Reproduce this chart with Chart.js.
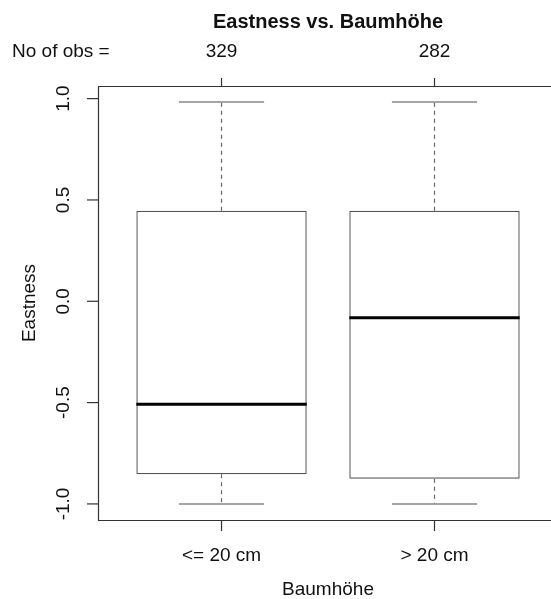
<!DOCTYPE html>
<html>
<head>
<meta charset="utf-8">
<script src="https://cdn.jsdelivr.net/npm/chart.js@4/dist/chart.umd.min.js"></script>
<style>
  html, body { margin: 0; padding: 0; background: #fff; }
  #wrap { width: 551px; height: 599px; }
</style>
</head>
<body>
<div id="wrap"><canvas id="c" width="551" height="599"></canvas></div>
<script>
// Box plot summaries per height class
const groups = ['<= 20 cm', '> 20 cm'];
const positions = [1, 2];
const nObs = [329, 282];
const whiskerLow = [-1.0, -1.0];
const quart1 = [-0.853, -0.876];
const medians = [-0.508, -0.081];
const quart3 = [0.447, 0.447];
const whiskerHigh = [0.983, 0.983];
const yTicks = [-1.0, -0.5, 0.0, 0.5, 1.0];

const titleText = 'Eastness vs. Baumhöhe';
const xTitle = 'Baumhöhe';
const yTitle = 'Eastness';
const obsLabel = 'No of obs =';

const FONT = '"Liberation Sans", Arial, Helvetica, sans-serif';
const BOX_WIDTH = 0.8;   // in x units
const CAP_WIDTH = 0.4;   // staple width in x units

const boxPlotExtras = {
  id: 'boxPlotExtras',
  beforeDraw(chart) {
    const ctx = chart.ctx;
    ctx.save();
    ctx.fillStyle = '#fff';
    ctx.fillRect(0, 0, chart.width, chart.height);
    ctx.restore();
  },
  afterDatasetsDraw(chart) {
    const ctx = chart.ctx;
    const xs = chart.scales.x, ys = chart.scales.y;
    ctx.save();
    positions.forEach((p, i) => {
      const cx = xs.getPixelForValue(p);
      const capHalf = (xs.getPixelForValue(p + CAP_WIDTH / 2) - cx);
      const boxHalf = (xs.getPixelForValue(p + BOX_WIDTH / 2) - cx);
      // dashed whiskers
      ctx.strokeStyle = '#666';
      ctx.lineWidth = 1.2;
      ctx.setLineDash([4, 4]);
      ctx.beginPath();
      ctx.moveTo(cx, ys.getPixelForValue(quart3[i]));
      ctx.lineTo(cx, ys.getPixelForValue(whiskerHigh[i]));
      ctx.moveTo(cx, ys.getPixelForValue(quart1[i]));
      ctx.lineTo(cx, ys.getPixelForValue(whiskerLow[i]));
      ctx.stroke();
      ctx.setLineDash([]);
      // staples
      ctx.strokeStyle = '#888';
      ctx.lineWidth = 1.5;
      ctx.beginPath();
      let yh = ys.getPixelForValue(whiskerHigh[i]);
      let yl = ys.getPixelForValue(whiskerLow[i]);
      ctx.moveTo(cx - capHalf, yh); ctx.lineTo(cx + capHalf, yh);
      ctx.moveTo(cx - capHalf, yl); ctx.lineTo(cx + capHalf, yl);
      ctx.stroke();
      // median
      ctx.strokeStyle = '#000';
      ctx.lineWidth = 3;
      const ym = ys.getPixelForValue(medians[i]);
      ctx.beginPath();
      ctx.moveTo(cx - boxHalf, ym); ctx.lineTo(cx + boxHalf, ym);
      ctx.stroke();
    });
    ctx.restore();
  },
  afterDraw(chart) {
    const ctx = chart.ctx;
    const xs = chart.scales.x, ys = chart.scales.y;
    const a = chart.chartArea;
    ctx.save();
    // frame (left, top, bottom)
    ctx.strokeStyle = '#333';
    ctx.lineWidth = 1.2;
    ctx.beginPath();
    ctx.moveTo(a.right + 10, a.top + 0.5);
    ctx.lineTo(a.left + 0.5, a.top + 0.5);
    ctx.lineTo(a.left + 0.5, a.bottom + 0.5);
    ctx.lineTo(a.right + 10, a.bottom + 0.5);
    ctx.stroke();

    ctx.fillStyle = '#111';
    ctx.font = '19px ' + FONT;
    // y ticks with rotated labels
    yTicks.forEach(v => {
      const y = ys.getPixelForValue(v);
      ctx.beginPath();
      ctx.moveTo(a.left, y); ctx.lineTo(a.left - 11, y);
      ctx.stroke();
      ctx.save();
      ctx.translate(a.left - 34, y);
      ctx.rotate(-Math.PI / 2);
      ctx.textAlign = 'center';
      ctx.textBaseline = 'middle';
      ctx.fillText(v.toFixed(1), 0, 0);
      ctx.restore();
    });
    // x ticks, bottom labels, top ticks and counts
    positions.forEach((p, i) => {
      const x = xs.getPixelForValue(p);
      ctx.beginPath();
      ctx.moveTo(x, a.bottom); ctx.lineTo(x, a.bottom + 11);
      ctx.moveTo(x, a.top); ctx.lineTo(x, a.top - 8);
      ctx.stroke();
      ctx.textAlign = 'center';
      ctx.textBaseline = 'middle';
      ctx.fillText(groups[i], x, a.bottom + 36);
      ctx.fillText(String(nObs[i]), x, 52);
    });
    ctx.textAlign = 'left';
    ctx.fillText(obsLabel, 12, 52);
    // axis titles
    const midX = (a.left + xs.getPixelForValue(2.58)) / 2;
    ctx.textAlign = 'center';
    ctx.fillText(xTitle, midX, 590);
    ctx.save();
    ctx.translate(30, (a.top + a.bottom) / 2);
    ctx.rotate(-Math.PI / 2);
    ctx.fillText(yTitle, 0, 0);
    ctx.restore();
    // main title
    ctx.font = 'bold 20px ' + FONT;
    ctx.fillText(titleText, midX, 22);
    ctx.restore();
  }
};

new Chart(document.getElementById('c'), {
  type: 'bar',
  data: {
    datasets: [{
      data: positions.map((p, i) => ({ x: p, y: [quart1[i], quart3[i]] })),
      backgroundColor: 'rgba(255,255,255,0)',
      borderColor: '#555',
      borderWidth: 1.2,
      borderSkipped: false,
      barPercentage: BOX_WIDTH,
      categoryPercentage: 1
    }]
  },
  options: {
    responsive: false,
    animation: false,
    layout: { padding: { left: 98, top: 86, right: 0, bottom: 79 } },
    plugins: { legend: { display: false }, tooltip: { enabled: false }, title: { display: false } },
    scales: {
      x: {
        type: 'linear', display: false, offset: false,
        min: 0.42, max: 2.547,
        afterBuildTicks: s => { s.ticks = positions.map(v => ({ value: v })); }
      },
      y: {
        type: 'linear', display: false,
        min: -1.0793, max: 1.0623
      }
    }
  },
  plugins: [boxPlotExtras]
});
</script>
</body>
</html>
